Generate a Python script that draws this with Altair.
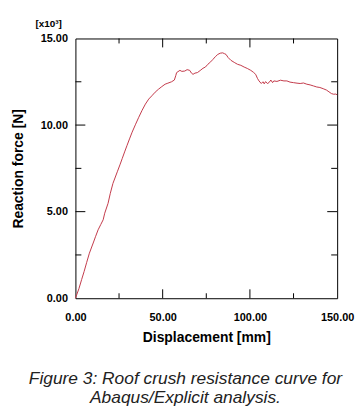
import altair as alt
import pandas as pd

disp = [0, 2, 3.6, 5, 6.4, 8, 10.2, 11.5, 13, 14.5, 15.9, 16.8, 18.7, 20, 21.5, 24, 25.5, 26.8,
        28.2, 29.6, 31, 32.5, 34.5, 36.3, 38.2, 40.1, 42, 43.8, 45.7, 47.6, 49.5, 51.4, 53, 55.1,
        56.7, 57.5, 58, 59.9, 61, 62.7, 64, 65.5, 66.5, 67.4, 68.5, 69.9, 71.5, 73.1, 74.5, 75.9, 77.5,
        78.8, 80.2, 81.6, 83, 84.4, 85.5, 86.3, 87.5, 89.1, 91, 92.9, 94.8, 96.7, 98.5, 100.5,
        102, 103.3, 104.3, 105.2, 106.5, 107.5, 108.2, 109, 110, 110.9, 112, 113, 113.7, 115.5,
        117.5, 119.5, 121.2, 123, 125, 127, 128.8, 130.7, 132.6, 134.5, 136.4, 138.3, 140.1,
        142, 143.9, 145.3, 146.7, 148, 149.2, 150]
force = [0, 0.55, 1.09, 1.55, 2.05, 2.6, 3.19, 3.55, 3.95, 4.25, 4.53, 4.91, 5.48, 6.06, 6.63, 7.30, 7.7, 8.06,
         8.45, 8.83, 9.2, 9.59, 10.05, 10.45, 10.85, 11.21, 11.5, 11.69, 11.9, 12.07, 12.22, 12.36, 12.42, 12.5,
         12.6, 12.85, 13.03, 13.16, 13.1, 13.12, 13.2, 13.16, 13.0, 12.93, 13.0, 13.03, 13.15, 13.28, 13.35, 13.51, 13.65,
         13.79, 13.95, 14.08, 14.15, 14.17, 14.12, 14.08, 13.9, 13.74, 13.62, 13.51, 13.45, 13.35, 13.27, 13.16,
         13.05, 12.93, 12.7, 12.55, 12.40, 12.5, 12.38, 12.51, 12.4, 12.45, 12.6, 12.45, 12.55, 12.52,
         12.59, 12.55, 12.55, 12.48, 12.45, 12.42, 12.40, 12.43, 12.36, 12.32, 12.26, 12.2, 12.17,
         12.1, 12.02, 11.92, 11.82, 11.78, 11.79, 11.75]

x_labels = [0, 50, 100, 150]
y_labels = [0, 5, 10, 15]
x_major = [50, 100]
x_minor = [25, 75, 125]
y_major = [5, 10]
y_minor = [2.5, 7.5, 12.5]

W, H = 264, 262
FONT = "Liberation Sans"
MAJ, MIN = 9, 5

xs = alt.Scale(domain=[0, 150], nice=False, zero=False)
ys = alt.Scale(domain=[0, 15], nice=False, zero=False)
xaxis = alt.Axis(values=x_labels, format=".2f", title="Displacement [mm]", ticks=False, grid=False,
                 domain=False, labelPadding=13, titlePadding=9, labelFlush=False)
yaxis = alt.Axis(values=y_labels, format=".2f", title="Reaction force [N]", ticks=False, grid=False,
                 domain=False, labelPadding=8, titlePadding=15, labelFlush=False)

line_df = pd.DataFrame({"d": disp, "f": force})

line = alt.Chart(line_df).mark_line(color="#c23a4a", strokeWidth=1).encode(
    x=alt.X("d:Q", scale=xs, axis=xaxis),
    y=alt.Y("f:Q", scale=ys, axis=yaxis),
)

layers = [line]


def xticks(vals, length):
    df = pd.DataFrame({"v": vals})
    bottom = alt.Chart(df).mark_rule(color="black", strokeWidth=1).encode(
        x=alt.X("v:Q", scale=xs, axis=xaxis), y=alt.value(H), y2=alt.value(H - length))
    top = alt.Chart(df).mark_rule(color="black", strokeWidth=1).encode(
        x=alt.X("v:Q", scale=xs, axis=xaxis), y=alt.value(0), y2=alt.value(length))
    return [bottom, top]


def yticks(vals, length):
    df = pd.DataFrame({"v": vals})
    left = alt.Chart(df).mark_rule(color="black", strokeWidth=1).encode(
        y=alt.Y("v:Q", scale=ys, axis=yaxis), x=alt.value(0), x2=alt.value(length))
    right = alt.Chart(df).mark_rule(color="black", strokeWidth=1).encode(
        y=alt.Y("v:Q", scale=ys, axis=yaxis), x=alt.value(W), x2=alt.value(W - length))
    return [left, right]


layers += xticks(x_major, MAJ) + xticks(x_minor, MIN) + yticks(y_major, MAJ + 1) + yticks(y_minor, MIN + 1)

mult = alt.Chart(pd.DataFrame({"t": ["[x10³]"]})).mark_text(
    font=FONT, fontWeight="bold", fontSize=10, color="black", align="center", baseline="middle"
).encode(text="t:N", x=alt.value(-27), y=alt.value(-15))
layers.append(mult)

chart = alt.layer(*layers).properties(
    width=W, height=H,
    autosize=alt.AutoSizeParams(type="none"),
    padding={"left": 68, "top": 29, "right": 18, "bottom": 113},
    title=alt.TitleParams(
        text=["Figure 3: Roof crush resistance curve for", "Abaqus/Explicit analysis."],
        orient="bottom", anchor="middle", fontStyle="italic", fontWeight="normal",
        fontSize=17.5, font=FONT, color="#222222", lineHeight=20, offset=25, dx=-21),
).configure_view(stroke="black", strokeWidth=1).configure_axis(
    labelFont=FONT, labelFontWeight="bold", labelFontSize=11, labelColor="black",
    titleFont=FONT, titleFontWeight="bold", titleFontSize=14, titleColor="black",
)

chart.save("out.html", embed_options={"renderer": "svg", "actions": False})
